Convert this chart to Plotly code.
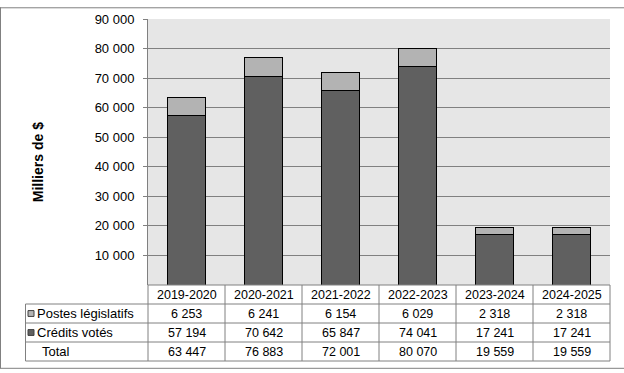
import plotly.graph_objects as go

categories = ["2019-2020", "2020-2021", "2021-2022", "2022-2023", "2023-2024", "2024-2025"]
postes = [6253, 6241, 6154, 6029, 2318, 2318]
credits = [57194, 70642, 65847, 74041, 17241, 17241]
totals = [63447, 76883, 72001, 80070, 19559, 19559]
tick_vals = [10000, 20000, 30000, 40000, 50000, 60000, 70000, 80000, 90000]
tick_text = ["10 000", "20 000", "30 000", "40 000", "50 000", "60 000", "70 000", "80 000", "90 000"]
series_names = ["Postes législatifs", "Crédits votés", "Total"]

W, H = 624, 373
L, R, T, B = 148, 610, 12, 285
PW, PH = R - L, B - T

def px(x):
    return (x - L) / PW

def py(y):
    return (B - y) / PH

def fmt(v):
    return f"{v:,}".replace(",", " ")

FONT = "Liberation Sans, Arial, sans-serif"
GRID = "#808080"
DARK = "#606060"
LIGHT = "#B3B3B3"

fig = go.Figure()
fig.add_trace(go.Bar(x=categories, y=credits, name=series_names[1], width=0.5,
                     marker=dict(color=DARK, line=dict(color="black", width=1))))
fig.add_trace(go.Bar(x=categories, y=postes, name=series_names[0], width=0.5,
                     marker=dict(color=LIGHT, line=dict(color="black", width=1))))

shapes = []
ann = []
n = len(categories)
rows_y = [285, 304.5, 324, 343.5, 363]

shapes.append(dict(type="line", xref="paper", yref="paper", x0=0, x1=1, y0=py(rows_y[0]), y1=py(rows_y[0]),
                   line=dict(color=GRID, width=1)))
for yy in rows_y[1:]:
    shapes.append(dict(type="line", xref="paper", yref="paper", x0=px(25.5), x1=1, y0=py(yy), y1=py(yy),
                       line=dict(color=GRID, width=1)))
for i in range(n + 1):
    shapes.append(dict(type="line", xref="paper", yref="paper", x0=i / n, x1=i / n,
                       y0=py(rows_y[0]), y1=py(rows_y[-1]), line=dict(color=GRID, width=1)))
shapes.append(dict(type="line", xref="paper", yref="paper", x0=px(25.5), x1=px(25.5),
                   y0=py(rows_y[1]), y1=py(rows_y[-1]), line=dict(color=GRID, width=1)))

for k, col in enumerate([LIGHT, DARK]):
    yc = (rows_y[k + 1] + rows_y[k + 2]) / 2
    shapes.append(dict(type="rect", xref="paper", yref="paper", x0=px(28), x1=px(34),
                       y0=py(yc + 3), y1=py(yc - 3), fillcolor=col, line=dict(color="#404040", width=1)))

shapes.append(dict(type="line", xref="paper", yref="paper", x0=px(0), x1=px(W), y0=py(0.5), y1=py(0.5),
                   line=dict(color=GRID, width=1)))
shapes.append(dict(type="line", xref="paper", yref="paper", x0=px(0.5), x1=px(0.5), y0=py(0), y1=py(370.5),
                   line=dict(color=GRID, width=1)))
shapes.append(dict(type="line", xref="paper", yref="paper", x0=px(0), x1=px(W), y0=py(370.5), y1=py(370.5),
                   line=dict(color=GRID, width=1)))

tf = dict(family=FONT, size=12.5, color="black")
lf = dict(family=FONT, size=13, color="black")
for c in categories:
    ann.append(dict(x=c, xref="x", y=py((rows_y[0] + rows_y[1]) / 2), yref="paper", text=c,
                    showarrow=False, xanchor="center", yanchor="middle", font=tf))
row_vals = [postes, credits, totals]
for r, vals in enumerate(row_vals):
    yc = py((rows_y[r + 1] + rows_y[r + 2]) / 2)
    for c, v in zip(categories, vals):
        ann.append(dict(x=c, xref="x", y=yc, yref="paper", text=fmt(v), showarrow=False,
                        xanchor="center", yanchor="middle", font=tf))
    lx = 35 if r < 2 else 40
    ann.append(dict(x=px(lx), xref="paper", y=yc, yref="paper", text=series_names[r], showarrow=False,
                    xanchor="left", yanchor="middle", font=lf))

ann.append(dict(x=px(38), xref="paper", y=py(159), yref="paper", text="<b>Milliers de $</b>",
                textangle=-90, showarrow=False, xanchor="center", yanchor="middle",
                font=dict(family=FONT, size=14, color="black")))

fig.update_layout(
    width=W, height=H, barmode="stack", showlegend=False,
    margin=dict(l=L, r=W - R, t=T, b=H - B, pad=0),
    paper_bgcolor="white", plot_bgcolor="#E6E6E6",
    font=dict(family=FONT, size=12, color="black"),
    xaxis=dict(range=[-0.5, n - 0.5], showticklabels=False, ticks="", showgrid=False,
               showline=False, zeroline=False, fixedrange=True),
    yaxis=dict(range=[0, 90000], tickvals=tick_vals, ticktext=tick_text, showgrid=True,
               gridcolor=GRID, gridwidth=1, ticks="outside", ticklen=4, tickcolor=GRID,
               showline=True, linecolor=GRID, linewidth=1, zeroline=False,
               tickfont=dict(family=FONT, size=13, color="black"), ticklabelstandoff=6),
    shapes=shapes, annotations=ann,
)

fig.write_html("out.html", config={"displayModeBar": False},
               post_script="document.body.style.margin='0';document.body.style.overflow='hidden';")
